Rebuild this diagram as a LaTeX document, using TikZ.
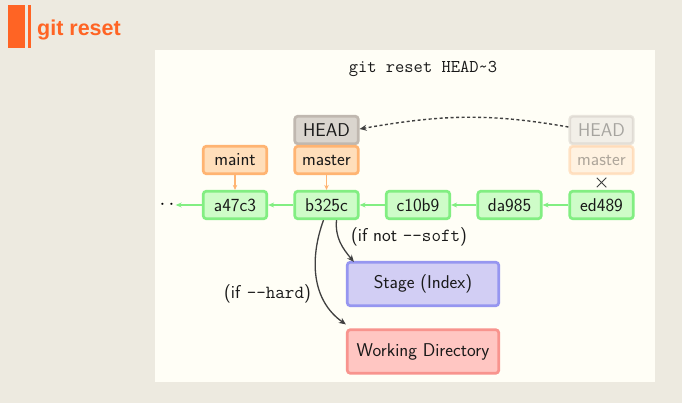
\documentclass[tikz,border=0pt]{standalone}
\usepackage{fontspec}
\newfontfamily\headfont{Liberation Sans}
\usetikzlibrary{arrows.meta,shapes.misc}
\definecolor{pagebg}{RGB}{237,234,224}
\definecolor{panelbg}{RGB}{255,254,246}
\definecolor{accent}{RGB}{255,100,36}
\definecolor{commitfill}{RGB}{206,252,200}
\definecolor{commitline}{RGB}{130,238,130}
\definecolor{branchfill}{RGB}{255,222,186}
\definecolor{branchline}{RGB}{255,180,114}
\definecolor{headfill}{RGB}{218,213,206}
\definecolor{headline}{RGB}{192,184,176}
\definecolor{stagefill}{RGB}{210,206,244}
\definecolor{stageline}{RGB}{150,150,240}
\definecolor{workfill}{RGB}{255,198,194}
\definecolor{workline}{RGB}{248,148,142}
\definecolor{ink}{RGB}{64,64,64}
\begin{document}
\begin{tikzpicture}[x=1pt,y=-1pt,
  label font/.style={font=\sffamily\fontsize{18.5}{22}\selectfont, text=black!90},
  box/.style={label font, rounded corners=3pt, line width=2.7pt, inner sep=0pt},
  commit/.style={box, draw=commitline, fill=commitfill, minimum width=63.5pt, minimum height=27.5pt},
  branch/.style={box, draw=branchline, fill=branchfill, minimum width=63.5pt, minimum height=27.5pt},
  headref/.style={box, draw=headline, fill=headfill, minimum width=63.5pt, minimum height=27.5pt},
  area/.style={box, minimum width=151.5pt, minimum height=43.5pt},
  faded/.style={opacity=0.35},
  parent/.style={draw=commitline, line width=1.2pt, -{Stealth[length=6pt,width=5pt]}},
  points/.style={draw=branchline, line width=1.2pt, -{Stealth[length=5pt,width=4.5pt]}},
  flow/.style={draw=ink, line width=1.3pt, -{Stealth[length=7pt,width=6pt]}},
]
\useasboundingbox (0,0) rectangle (682,403);
\fill[pagebg] (0,0) rectangle (682,403);
\fill[panelbg] (155,50) rectangle (655,382);

% slide heading
\fill[accent] (8,5) rectangle (24.5,48.5);
\fill[accent] (27.8,5) rectangle (31,48.5);
\node[anchor=base west, inner sep=0pt, text=accent, font=\headfont\bfseries\fontsize{21.5}{24}\selectfont] (title) at (37,35.5) {git reset};

% command
\node[font=\ttfamily\fontsize{18}{21}\selectfont, text=black!90] (cmd) at (423,69) {git reset HEAD\string~3};

% commits
\node[font=\fontsize{22}{24}\selectfont, inner sep=1pt] (more) at (167,205) {$\cdot\,\cdot$};
\node[commit] (a47c3) at (235,205) {a47c3};
\node[commit] (b325c) at (326.5,205) {b325c};
\node[commit] (c10b9) at (418,205) {c10b9};
\node[commit] (da985) at (509.5,205) {da985};
\node[commit] (ed489) at (601.5,205) {ed489};

\draw[parent] (a47c3.west) -- (more.east);
\draw[parent] (b325c.west) -- (a47c3.east);
\draw[parent] (c10b9.west) -- (b325c.east);
\draw[parent] (da985.west) -- (c10b9.east);
\draw[parent] (ed489.west) -- (da985.east);

% branches and HEAD
\node[branch] (maint) at (235,160) {maint};
\node[headref] (head) at (326.5,130) {HEAD};
\node[branch] (master) at (326.5,160) {master};
\draw[points] (maint.south) -- (a47c3.north);
\draw[points] (master.south) -- (b325c.north);

% previous position of HEAD and master
\node[headref, faded] (oldhead) at (601.5,130) {HEAD};
\node[branch, faded] (oldmaster) at (601.5,160) {master};
\node[draw=ink, cross out, line width=1pt, minimum size=8.5pt, inner sep=0pt] (cut) at (601.5,182.5) {};

\draw[flow, line width=1.4pt, dash pattern=on 3pt off 2.5pt]
  ([yshift=3pt]oldhead.west) to[out=170, in=10] ([yshift=1pt]head.east);

% stage and working directory
\node[area, draw=stageline, fill=stagefill] (stage) at (423,284) {Stage (Index)};
\node[area, draw=workline, fill=workfill] (work) at (423,351.5) {Working Directory};

\draw[flow] ([xshift=10pt]b325c.south) to[out=-95, in=130] ([xshift=8pt,yshift=-1pt]stage.north west);
\draw[flow] ([xshift=-3pt]b325c.south) to[out=-110, in=145] ([yshift=4pt]work.north west);

\node[label font, anchor=west, inner sep=0pt] (soft) at (351,237) {(if not \texttt{--soft})};
\node[label font, anchor=east, inner sep=0pt] (hard) at (311,294) {(if \texttt{--hard})};
\end{tikzpicture}
\end{document}
